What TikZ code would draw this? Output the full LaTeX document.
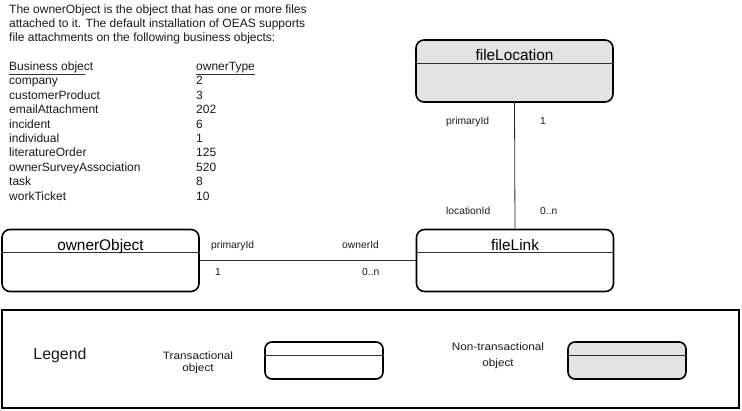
\documentclass[tikz,border=0pt]{standalone}
\usepackage{fontspec}
\setmainfont{Liberation Sans}
\usetikzlibrary{calc}
\definecolor{boxgrey}{HTML}{E3E3E3}
\definecolor{inkgrey}{HTML}{1A1A1A}
\tikzset{
  entity/.style={draw=black, line width=1.6pt, rounded corners=8pt, inner sep=0pt,
                 minimum width=197pt, minimum height=62pt},
  trans/.style={entity, fill=white},
  nontrans/.style={entity, fill=boxgrey},
  legendbox/.style={draw=black, line width=1.6pt, rounded corners=7pt, inner sep=0pt,
                 minimum width=118pt, minimum height=37pt},
  divider/.style={draw=black!80, line width=0.8pt},
  entitytitle/.style={font=\fontsize{15.4}{18}\selectfont, inner sep=0pt, anchor=base},
  body/.style={font=\fontsize{12}{14}\selectfont, inner sep=0pt, anchor=base west, text=inkgrey},
  rolelabel/.style={font=\fontsize{10.3}{12}\selectfont, inner sep=0pt, anchor=base west, text=inkgrey},
  legendtext/.style={font=\fontsize{10.7}{13}\selectfont, inner sep=0pt, anchor=base, text=inkgrey},
  connector/.style={draw=black!85, line width=0.8pt},
  underline/.style={draw=black!80, line width=0.8pt},
  frame/.style={draw=black, line width=2pt, inner sep=0pt},
}
\begin{document}
\begin{tikzpicture}[x=1pt,y=-1pt]
\useasboundingbox (0,0) rectangle (742,411);

% Intro text
\node[body] (p1) at (9,14) {The ownerObject is the object that has one or more files};
\node[body] (p2) at (9,28) {attached to it. The default installation of OEAS supports};
\node[body] (p3) at (9,41.5) {file attachments on the following business objects:};

% Table
\node[body] (hA) at (9,71) {Business object};
\node[body] (hB) at (196,71) {ownerType};
\draw[underline] (9,74.8) -- (85,74.8);
\draw[underline] (196,74.8) -- (255,74.8);
\foreach \name/\val [count=\i from 0] in {company/2, customerProduct/3, emailAttachment/202,
    incident/6, individual/1, literatureOrder/125, ownerSurveyAssociation/520, task/8, workTicket/10}{
  \node[body] (rowA\i) at (9,85+14.4*\i) {\name};
  \node[body] (rowB\i) at (196,85+14.4*\i) {\val};
}

% Entities
\node[nontrans] (fileLocation) at (514.5,71) {};
\draw[divider] ($(fileLocation.north west)+(0,24)$) -- ($(fileLocation.north east)+(0,24)$);
\node[entitytitle] (fileLocationT) at ($(fileLocation.north)+(0,21.8)$) {fileLocation};

\node[trans] (fileLink) at (515,260.5) {};
\draw[divider] ($(fileLink.north west)+(0,24)$) -- ($(fileLink.north east)+(0,24)$);
\node[entitytitle] (fileLinkT) at ($(fileLink.north)+(0,21.8)$) {fileLink};

\node[trans] (ownerObject) at (100.5,260.5) {};
\draw[divider] ($(ownerObject.north west)+(0,24)$) -- ($(ownerObject.north east)+(0,24)$);
\node[entitytitle] (ownerObjectT) at ($(ownerObject.north)+(0,21.8)$) {ownerObject};

% Connectors
\draw[connector] (fileLocation.south) -- (fileLink.north);
\draw[connector] (ownerObject.east) -- (fileLink.west);

% Role labels
\node[rolelabel] (r1) at (446,124.5) {primaryId};
\node[rolelabel] (r2) at (540,124.5) {1};
\node[rolelabel] (r3) at (446,215) {locationId};
\node[rolelabel] (r4) at (540,215) {0..n};
\node[rolelabel] (r5) at (211,248.5) {primaryId};
\node[rolelabel] (r6) at (342,248.5) {ownerId};
\node[rolelabel] (r7) at (215,275.5) {1};
\node[rolelabel] (r8) at (362,275.5) {0..n};

% Legend
\node[frame, minimum width=737pt, minimum height=98pt] (legend) at (370.5,359) {};
\node[font=\fontsize{15.9}{18}\selectfont, inner sep=0pt, anchor=base, text=inkgrey] (legendT) at (60,360) {Legend};
\node[legendtext] (tr1) at (198,359.4) {\scalebox{1.1}[1]{Transactional}};
\node[legendtext] (tr2) at (198,371.5) {\scalebox{1.1}[1]{object}};
\node[legendbox, fill=white] (transBox) at (324,360.5) {};
\draw[divider] ($(transBox.north west)+(0,14)$) -- ($(transBox.north east)+(0,14)$);
\node[legendtext] (nt1) at (498,350.7) {\scalebox{1.1}[1]{Non-transactional}};
\node[legendtext] (nt2) at (498,366.5) {\scalebox{1.1}[1]{object}};
\node[legendbox, fill=boxgrey] (nonTransBox) at (627,360.5) {};
\draw[divider] ($(nonTransBox.north west)+(0,14)$) -- ($(nonTransBox.north east)+(0,14)$);
\end{tikzpicture}
\end{document}
